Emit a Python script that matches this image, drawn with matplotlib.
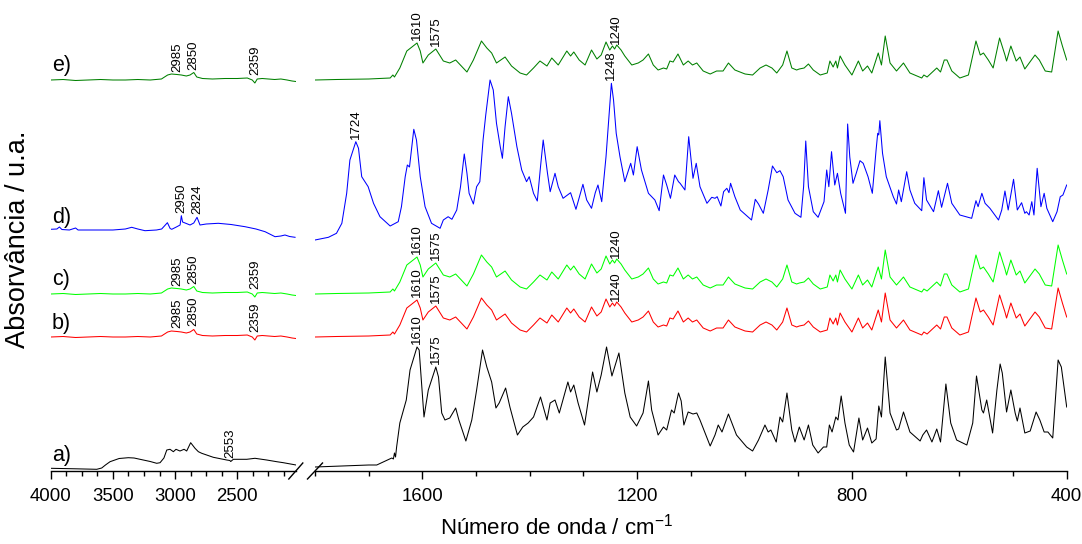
import matplotlib
matplotlib.use("Agg")
import matplotlib.pyplot as plt
from matplotlib.ticker import MultipleLocator, FixedLocator
import numpy as np

plt.rcParams['font.family'] = ['Liberation Sans', 'DejaVu Sans']
plt.rcParams['mathtext.default'] = 'regular'

# espectro a) - regiao alta (4000-2030) e regiao baixa (1800-400)
a_wn_alto = [4000, 3800, 3630, 3590, 3560, 3523, 3450, 3376, 3330, 3282, 3200, 3148, 3121, 3090,
             3067, 3041, 3014, 2993, 2961, 2928, 2907, 2875, 2840, 2813, 2786, 2693, 2585, 2560,
             2553, 2532, 2424, 2358, 2264, 2183, 2130, 2028]
a_abs_alto = [-1.3, -1.8, -2.3, -1, 2, 5.3, 8.5, 9.3, 9, 7.7, 5.5, 3.7, 4.3, 9,
              17, 17.7, 15.3, 17.7, 16, 17.7, 16, 24.3, 18.7, 15.3, 13.7, 9.7, 7, 6.5,
              5.5, 7.7, 7.7, 8.7, 7, 5.3, 4.3, 2]
a_wn = [1800, 1750, 1700, 1685, 1657, 1654, 1652, 1650, 1648, 1642, 1630, 1623, 1610, 1606,
        1597, 1589, 1575, 1570, 1564, 1558, 1549, 1538, 1532, 1519, 1508, 1499, 1488, 1480,
        1471, 1463, 1457, 1445, 1437, 1423, 1413, 1403, 1393, 1380, 1368, 1362, 1353, 1345,
        1329, 1324, 1318, 1310, 1298, 1283, 1275, 1267, 1257, 1247, 1234, 1223, 1213, 1201,
        1189, 1179, 1173, 1161, 1151, 1145, 1136, 1131, 1123, 1118, 1113, 1105, 1096, 1089,
        1083, 1064, 1055, 1049, 1042, 1030, 1015, 996, 985, 974, 962, 956, 951, 941,
        934, 929, 921, 912, 906, 898, 889, 881, 873, 863, 853, 847, 842, 837,
        830, 826, 820, 813, 805, 797, 787, 780, 771, 763, 755, 750, 745, 738,
        729, 717, 713, 704, 692, 673, 668, 661, 651, 642, 635, 625, 616, 605,
        586, 575, 568, 558, 555, 549, 538, 530, 524, 520, 512, 504, 496, 492,
        487, 478, 468, 457, 450, 442, 435, 426, 416, 410, 400]
a_abs = [0, 1, 2, 2, 9, 8, 14, 10, 20, 44, 67, 97, 120, 117,
         50, 77, 100, 90, 54, 47, 49, 59, 47, 26, 47, 77, 117, 100,
         85, 59, 64, 79, 60, 32, 40, 44, 50, 70, 47, 64, 67, 54,
         85, 75, 82, 64, 42, 95, 75, 92, 120, 91, 114, 74, 50, 41,
         54, 86, 57, 32, 40, 37, 57, 54, 74, 66, 42, 55, 53, 54,
         47, 21, 32, 42, 35, 53, 32, 20, 16, 27, 42, 35, 37, 25,
         50, 45, 74, 37, 25, 40, 27, 42, 22, 14, 20, 20, 42, 35,
         50, 47, 71, 44, 22, 15, 49, 27, 39, 24, 28, 61, 50, 110,
         54, 37, 38, 55, 35, 26, 32, 37, 25, 38, 25, 83, 44, 27,
         22, 44, 91, 57, 54, 67, 34, 77, 103, 94, 55, 77, 54, 46,
         59, 34, 36, 55, 47, 35, 35, 29, 107, 100, 60]

# espectros b), c) e e) - mesmo perfil
bce_wn_alto = [4000, 3900, 3800, 3700, 3600, 3500, 3400, 3300, 3200, 3110, 3060, 3030, 2985,
               2950, 2910, 2880, 2850, 2826, 2780, 2700, 2600, 2500, 2420, 2380, 2359, 2340,
               2300, 2250, 2200, 2150, 2100, 2060, 2030]
bce_abs_alto = [0, 0.5, -0.5, 0, 0.5, 0, 0, 0.5, 0, 1, 5, 6, 5.5,
                5, 4, 5, 7.5, 3, 1.5, 1, 1.5, 1.5, 2, 0, -3, 1,
                1.5, 1, 0.5, 1, 0, -1, -1.5]
bce_wn = [1800, 1760, 1700, 1660, 1655, 1652, 1642, 1629, 1610, 1604, 1599, 1589, 1575, 1561,
          1549, 1538, 1517, 1505, 1490, 1480, 1471, 1462, 1446, 1434, 1418, 1406, 1393, 1381,
          1368, 1359, 1347, 1331, 1324, 1318, 1308, 1297, 1285, 1275, 1267, 1258, 1251, 1246,
          1242, 1238, 1230, 1223, 1210, 1198, 1189, 1179, 1170, 1161, 1151, 1145, 1139, 1133,
          1124, 1114, 1105, 1097, 1089, 1077, 1064, 1052, 1040, 1030, 1018, 999, 985, 971,
          960, 949, 940, 929, 921, 912, 903, 898, 889, 881, 872, 859, 846, 841,
          835, 830, 827, 822, 813, 800, 788, 780, 771, 763, 751, 745, 738, 729,
          717, 704, 692, 670, 666, 660, 642, 635, 628, 623, 614, 599, 583, 569,
          561, 555, 546, 537, 525, 515, 512, 504, 494, 487, 478, 459, 451, 440,
          428, 416, 408, 400]
bce_abs = [0, 0.5, 1, 2, 5, 3, 12, 29, 37, 29, 17, 25, 31, 19,
           17, 20, 8, 20, 39, 32, 27, 17, 23, 14, 7, 5, 12, 19,
           14, 22, 15, 29, 24, 28, 20, 15, 30, 21, 25, 38, 30, 34,
           31, 35, 30, 24, 15, 17, 20, 26, 15, 10, 12, 11, 19, 18,
           26, 15, 19, 15, 17, 9, 6, 9, 9, 17, 10, 6, 5, 12,
           15, 12, 7, 15, 29, 12, 10, 11, 12, 16, 10, 5, 7, 19,
           13, 19, 12, 24, 15, 5, 19, 9, 14, 7, 27, 15, 44, 17,
           9, 17, 7, 2, 5, 3, 12, 8, 20, 20, 9, 2, 5, 39,
           25, 27, 20, 12, 42, 25, 19, 34, 19, 23, 11, 25, 20, 9,
           8, 49, 34, 20]

# espectro d)
d_wn_alto = [4000, 3950, 3930, 3910, 3850, 3800, 3780, 3700, 3600, 3500, 3400, 3349, 3300,
             3242, 3150, 3108, 3062, 3040, 3027, 2990, 2960, 2950, 2940, 2920, 2880, 2850,
             2824, 2800, 2750, 2653, 2550, 2438, 2350, 2277, 2197, 2150, 2117, 2080, 2036]
d_abs_alto = [10.7, 11, 13, 10.5, 10, 12, 10, 10, 10, 10, 11, 12.7, 11,
              9.3, 10, 11, 17.3, 11.5, 10.7, 13, 15, 24.3, 18, 17, 15, 17,
              22.7, 15, 16, 16.7, 15.5, 13.3, 11, 8.3, 3.3, 4, 5, 3.5, 2.7]
d_wn = [1800, 1775, 1760, 1750, 1741, 1735, 1724, 1719, 1713, 1701, 1691, 1679, 1660, 1645,
        1639, 1632, 1628, 1624, 1616, 1611, 1604, 1595, 1583, 1567, 1561, 1552, 1545, 1536,
        1529, 1522, 1517, 1513, 1505, 1499, 1493, 1487, 1482, 1474, 1468, 1462, 1455, 1451,
        1446, 1440, 1434, 1424, 1415, 1406, 1401, 1393, 1386, 1380, 1375, 1367, 1362, 1353,
        1347, 1338, 1324, 1314, 1301, 1294, 1285, 1278, 1273, 1266, 1258, 1248, 1244, 1239,
        1232, 1223, 1212, 1207, 1200, 1192, 1179, 1167, 1159, 1151, 1145, 1138, 1130, 1123,
        1120, 1111, 1104, 1096, 1090, 1083, 1070, 1061, 1055, 1051, 1044, 1039, 1033, 1029,
        1026, 1018, 1008, 987, 980, 974, 965, 956, 948, 940, 934, 928, 919, 906,
        895, 890, 886, 881, 872, 863, 852, 847, 843, 838, 832, 827, 821, 812,
        808, 804, 798, 792, 785, 779, 770, 762, 755, 752, 750, 748, 743, 736,
        723, 717, 713, 708, 698, 692, 683, 670, 666, 661, 648, 639, 633, 622,
        614, 599, 577, 569, 565, 558, 552, 543, 527, 521, 515, 509, 499, 492,
        484, 478, 475, 470, 465, 461, 455, 448, 442, 437, 426, 418, 412, 407, 400]
d_abs = [0, 2.7, 6.7, 16.7, 46.7, 80, 98.3, 91.7, 63.3, 53.3, 36.7, 23.3, 14, 18.3,
         33.3, 63.3, 75, 73, 110.7, 100, 63.3, 33.3, 16.7, 11.7, 20, 23.3, 20.7, 30,
         53.3, 86, 66.7, 46.7, 36, 53.3, 58.3, 100, 125, 160, 150, 116.7, 93.3, 81.7,
         113.3, 143.3, 126.7, 93.3, 70, 58.3, 63.3, 46.7, 39, 73.3, 100, 66.7, 48.3, 66.7,
         53.3, 41.7, 47.3, 30.7, 55.7, 40, 31.7, 47.3, 55, 38.3, 83.3, 156.7, 140, 106.7,
         83.3, 58.3, 76.7, 65, 93.3, 70, 46.7, 40, 29.3, 65, 55, 41.7, 65, 58.3,
         56.7, 50, 103.3, 61.7, 76.7, 53.3, 36.7, 42.7, 41.7, 43.3, 34, 48.3, 51.7, 47.3,
         56.7, 43.3, 30, 20, 40.7, 36, 26.7, 50, 74, 67.3, 69.3, 63.3, 40, 26.7,
         22.7, 53.3, 99, 53.3, 28.3, 22.7, 38.3, 70, 53.3, 88.3, 55, 66.7, 46.7, 26.7,
         116, 83, 56.7, 66.7, 79.3, 76.7, 63.3, 46.7, 90, 106.7, 105, 119.3, 86.7, 63.3,
         43.3, 36, 50, 38.3, 68.3, 50, 36.7, 29.3, 62.3, 40, 28.3, 49.3, 32.7, 56.7,
         36.7, 25, 21.7, 39.3, 33.3, 46.7, 36.7, 31.7, 20, 30, 49, 30, 60.7, 30,
         37.3, 26.7, 28.3, 25, 38.3, 25, 71.7, 33.3, 46.7, 31.7, 18.3, 28.3, 43.3, 45, 55]

# rotulo, cor, deslocamento vertical e dados de cada espectro
rotulos = ['a)', 'b)', 'c)', 'd)', 'e)']
cores = ['black', '#ff0000', '#00ff00', '#0000ff', '#008000']
deslocamentos = [4, 134, 177, 231, 391]
dados_alto = [(a_wn_alto, a_abs_alto), (bce_wn_alto, bce_abs_alto), (bce_wn_alto, bce_abs_alto),
              (d_wn_alto, d_abs_alto), (bce_wn_alto, bce_abs_alto)]
dados_baixo = [(a_wn, a_abs), (bce_wn, bce_abs), (bce_wn, bce_abs), (d_wn, d_abs), (bce_wn, bce_abs)]
posicao_rotulo = [12, 14, 15, 22, 15]

# bandas marcadas em cada espectro
bandas_alto = [[2553], [2985, 2850, 2359], [2985, 2850, 2359], [2950, 2824], [2985, 2850, 2359]]
bandas_baixo = [[1610, 1575], [1610, 1575, 1240], [1610, 1575, 1240], [1724, 1248], [1610, 1575, 1240]]

W, H = 1082, 544
fig = plt.figure(figsize=(W / 100, H / 100), dpi=100)
base, alt = 73 / H, 451 / H
ax1 = fig.add_axes([50.7 / W, base, 245.1 / W, alt])
ax2 = fig.add_axes([315 / W, base, 751.7 / W, alt])

ax1.set_xlim(4000, 2030)
ax2.set_xlim(1800, 400)
for ax in (ax1, ax2):
    ax.set_ylim(0, 451)
    for s in ('left', 'right', 'top'):
        ax.spines[s].set_visible(False)
    ax.spines['bottom'].set_linewidth(1.0)
    ax.set_yticks([])
    ax.tick_params(axis='x', which='major', length=6, width=1.0, labelsize=13.4, pad=6.5)
    ax.tick_params(axis='x', which='minor', length=3.5, width=1.0)
    ax.patch.set_visible(False)

ax1.xaxis.set_major_locator(FixedLocator([4000, 3500, 3000, 2500]))
ax1.xaxis.set_minor_locator(MultipleLocator(125))
ax2.xaxis.set_major_locator(MultipleLocator(400))
ax2.xaxis.set_minor_locator(MultipleLocator(100))

for i in range(5):
    off = deslocamentos[i]
    wn1, v1 = dados_alto[i]
    wn2, v2 = dados_baixo[i]
    y1 = np.array(v1) + off
    y2 = np.array(v2) + off
    ax1.plot(wn1, y1, color=cores[i], lw=0.75)
    ax2.plot(wn2, y2, color=cores[i], lw=0.75)
    ax1.text(3990, off + posicao_rotulo[i], rotulos[i], fontsize=15.5, ha='left', va='center')
    for b in bandas_alto[i]:
        # bandas fracas: o texto fica acima da linha de base
        yb = max(np.interp(b, wn1[::-1], y1[::-1]), off + 2)
        ax1.text(b, yb + 3, str(b), rotation=90, fontsize=9.5, ha='center', va='bottom')
    for b in bandas_baixo[i]:
        yb = np.interp(b, wn2[::-1], y2[::-1])
        ax2.text(b, yb + 3, str(b), rotation=90, fontsize=9.5, ha='center', va='bottom')

# marcas de quebra do eixo
dx, dy = 7 / 245.1, 8 / 451
ax1.plot([1 - dx, 1 + dx], [-dy, dy], transform=ax1.transAxes, color='black', lw=1.0, clip_on=False)
dx2 = 7.5 / 751.7
ax2.plot([-dx2, dx2], [-dy, dy], transform=ax2.transAxes, color='black', lw=1.0, clip_on=False)

fig.text(557 / W, 1 - 527 / H, 'Número de onda / cm$^{-1}$', fontsize=16, ha='center', va='center')
fig.text(18 / W, 1 - 239 / H, 'Absorvância / u.a.', fontsize=19.5, rotation=90, ha='center', va='center')

fig.savefig('out.png', dpi=100)
